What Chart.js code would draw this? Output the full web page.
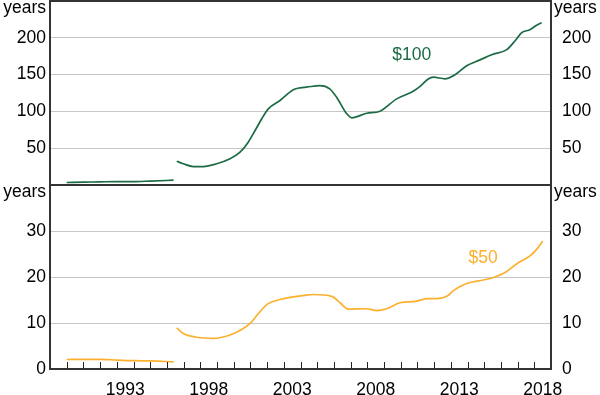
<!DOCTYPE html>
<html>
<head>
<meta charset="utf-8">
<script src="https://cdn.jsdelivr.net/npm/chart.js@4.4.1/dist/chart.umd.min.js"></script>
<style>
  html, body { margin: 0; padding: 0; background: #fff; }
  #wrap { position: relative; width: 600px; height: 395px; }
  canvas { position: absolute; left: 0; }
  #top { top: 0; }
  #bottom { top: 185px; }
</style>
</head>
<body>
<div id="wrap">
  <canvas id="top" width="600" height="185"></canvas>
  <canvas id="bottom" width="600" height="210"></canvas>
</div>
<script>
// $100 note, years (null marks the break in the series)
const x100 = [1990.0, 1991.0, 1992.0, 1993.0, 1994.0, 1995.0, 1996.4, 1996.5,
  1996.59, 1996.98, 1997.58, 1998.18, 1998.98, 1999.78, 2000.38, 2000.87, 2001.28, 2001.68,
  2002.07, 2002.77, 2003.57, 2003.97, 2004.37, 2005.17, 2005.75, 2006.17, 2006.77, 2007.07,
  2007.96, 2008.76, 2009.76, 2010.75, 2011.16, 2011.65, 2011.95, 2012.65, 2013.25, 2013.95,
  2014.75, 2015.45, 2016.35, 2016.85, 2017.25, 2017.74, 2018.14, 2018.44]
const v100 = [3.4, 3.8, 4.3, 4.7, 4.6, 5.4, 6.5, null,
  32.3, 28.8, 25.1, 25.1, 28.8, 35.6, 44.6, 58.2, 74, 90,
  103.5, 114.8, 129.3, 132, 133, 135, 130.7, 119, 96.7, 91.3,
  97.5, 100.3, 117, 127.4, 134, 144, 146.5, 144.3, 149.7, 162,
  170, 177, 184, 196, 207, 211, 217, 220.4]

// $50 note
const x50 = [1990.0, 1991.0, 1992.0, 1993.0, 1994.0, 1995.0, 1996.4, 1996.5,
  1996.59, 1996.98, 1997.78, 1998.78, 1999.78, 2000.48, 2000.98, 2001.47, 2001.98, 2002.77,
  2003.77, 2004.47, 2004.77, 2005.87, 2006.37, 2006.86, 2007.96, 2008.56, 2009.16, 2009.96,
  2010.86, 2011.65, 2012.16, 2012.85, 2013.15, 2013.95, 2014.95, 2015.55, 2016.25, 2017.04,
  2017.74, 2018.14, 2018.50]
const v50 = [2.07, 2.1, 2.1, 1.95, 1.8, 1.75, 1.57, null,
  8.95, 7.7, 6.9, 6.65, 7.4, 8.6, 9.9, 12.0, 14.0, 15.1,
  15.8, 16.1, 16.2, 15.8, 14.4, 13.0, 13.1, 12.7, 13.1, 14.4,
  14.7, 15.3, 15.3, 16.0, 17.05, 18.6, 19.35, 19.9, 21.0, 23.1,
  24.6, 26.0, 27.8]

const xTickYears = [1993, 1998, 2003, 2008, 2013, 2018]
const xTickLabels = ['1993', '1998', '2003', '2008', '2013', '2018']
const unitLabel = 'years'

const green = '#1b6b45'
const orange = '#fcb02e'
const gridColor = '#c6c6c6'
const FONT = "'Liberation Sans', Arial, sans-serif"
const FSIZE = 17.5

Chart.defaults.font.family = FONT
Chart.defaults.font.size = FSIZE
Chart.defaults.color = '#000'

const pts = (xs, ys) => xs.map((x, i) => ({ x: x, y: ys[i] }))

const gridFor = (lo, hi) => ({
  drawTicks: false,
  lineWidth: 1,
  color: c => (c.tick && c.tick.value > lo && c.tick.value < hi) ? gridColor : 'rgba(0,0,0,0)'
})

// frame, unit labels, series label and minor year ticks
const decor = {
  id: 'decor',
  afterDraw(chart, args, opts) {
    const { ctx, chartArea: a } = chart
    ctx.save()
    ctx.font = FSIZE + 'px ' + FONT
    ctx.fillStyle = '#000'
    ctx.textBaseline = 'alphabetic'
    ctx.textAlign = 'right'
    ctx.fillText(unitLabel, a.left - 4, a.top + 12)
    ctx.textAlign = 'left'
    ctx.fillText(unitLabel, a.right + 3, a.top + 12)

    if (opts.ticks) {
      ctx.strokeStyle = '#222'
      ctx.lineWidth = 1
      for (let yr = 1990; yr <= 2018; yr++) {
        const px = Math.round(chart.scales.x.getPixelForValue(yr)) + 0.5
        ctx.beginPath()
        ctx.moveTo(px, a.bottom)
        ctx.lineTo(px, a.bottom - 7)
        ctx.stroke()
      }
    }

    ctx.fillStyle = opts.color
    ctx.textAlign = 'center'
    ctx.textBaseline = 'middle'
    ctx.fillText(opts.text, chart.scales.x.getPixelForValue(opts.at[0]), chart.scales.y.getPixelForValue(opts.at[1]))

    ctx.strokeStyle = '#333'
    ctx.lineWidth = 2
    ctx.strokeRect(a.left, a.top, a.right - a.left, a.bottom - a.top)
    ctx.restore()
  }
}

const lineSet = (data, color) => ({
  data: data,
  borderColor: color,
  borderWidth: 1.7,
  pointRadius: 0,
  cubicInterpolationMode: 'monotone',
  spanGaps: false
})

const noPad = s => {
  s.paddingTop = 0
  s.paddingBottom = 0
  s.paddingLeft = 0
  s.paddingRight = 0
}

const yAxis = (pos, max, step, hideLabel) => ({
  position: pos,
  min: 0,
  max: max,
  afterFit: s => {
    s.width = pos === 'left' ? 50 : 49
    noPad(s)
  },
  border: { display: false },
  grid: pos === 'left' ? gridFor(0, max) : { display: false },
  ticks: {
    stepSize: step,
    padding: pos === 'left' ? 4 : 3,
    callback: v => hideLabel(v) ? '' : v
  }
})

new Chart(document.getElementById('top'), {
  type: 'line',
  data: { datasets: [lineSet(pts(x100, v100), green)] },
  options: {
    responsive: false,
    animation: false,
    layout: { padding: { top: 1, bottom: 0, left: 0, right: 0 } },
    plugins: {
      legend: { display: false },
      tooltip: { enabled: false },
      decor: { text: '$100', color: green, at: [2010.66, 177], ticks: false }
    },
    scales: {
      x: { type: 'linear', min: 1989, max: 2019, display: false },
      y: yAxis('left', 250, 50, v => v === 0 || v === 250),
      yR: yAxis('right', 250, 50, v => v === 0 || v === 250)
    }
  },
  plugins: [decor]
})

new Chart(document.getElementById('bottom'), {
  type: 'line',
  data: { datasets: [lineSet(pts(x50, v50), orange)] },
  options: {
    responsive: false,
    animation: false,
    layout: { padding: { top: 0, bottom: 0, left: 0, right: 0 } },
    plugins: {
      legend: { display: false },
      tooltip: { enabled: false },
      decor: { text: '$50', color: orange, at: [2014.93, 24.15], ticks: true }
    },
    scales: {
      x: {
        type: 'linear',
        min: 1989,
        max: 2019,
        afterBuildTicks: s => { s.ticks = xTickYears.map(y => ({ value: y + 0.5 })) },
        afterFit: s => {
          s.height = 26
          noPad(s)
        },
        border: { display: false },
        grid: { display: false },
        ticks: {
          autoSkip: false,
          maxRotation: 0,
          padding: 3,
          callback: (v, i) => xTickLabels[i]
        }
      },
      y: yAxis('left', 40, 10, v => v === 40),
      yR: yAxis('right', 40, 10, v => v === 40)
    }
  },
  plugins: [decor]
})
</script>
</body>
</html>
